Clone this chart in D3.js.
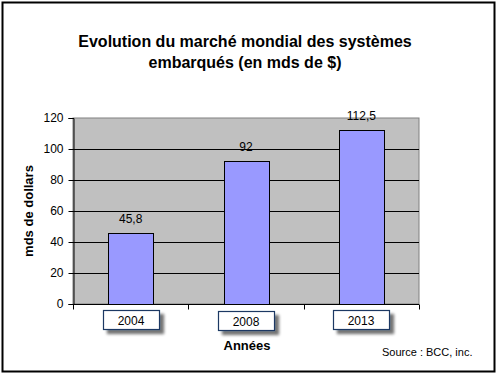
<!DOCTYPE html>
<html>
<head>
<meta charset="utf-8">
<script src="https://cdn.jsdelivr.net/npm/d3@7"></script>
<style>
  body { margin: 0; background: #fff; }
  svg { display: block; font-family: "Liberation Sans", Arial, sans-serif; }
</style>
</head>
<body>
<div class="graph"></div>
<script>
const years = ["2004", "2008", "2013"];
const values = [45.8, 92, 112.5];
const valueLabels = ["45,8", "92", "112,5"];
const yTicks = [0, 20, 40, 60, 80, 100, 120];
const titleLines = ["Evolution du marché mondial des systèmes", "embarqués (en mds de $)"];

const outerWidth = 497, outerHeight = 375;
const plot = { left: 73, right: 419, top: 118, bottom: 304 };

const svg = d3.select(".graph").append("svg")
    .attr("width", outerWidth)
    .attr("height", outerHeight);

const defs = svg.append("defs");
const shadow = defs.append("filter").attr("id", "shadow")
    .attr("x", "-20%").attr("y", "-30%").attr("width", "150%").attr("height", "190%");
shadow.append("feGaussianBlur").attr("in", "SourceAlpha").attr("stdDeviation", 1.6);
shadow.append("feOffset").attr("dx", 4).attr("dy", 4).attr("result", "off");
shadow.append("feComponentTransfer").append("feFuncA").attr("type", "linear").attr("slope", 0.55);
const merge = shadow.append("feMerge");
merge.append("feMergeNode");
merge.append("feMergeNode").attr("in", "SourceGraphic");

// chart frame
svg.append("rect")
    .attr("x", 2.5).attr("y", 2.5)
    .attr("width", 492).attr("height", 369)
    .attr("fill", "#fff")
    .attr("stroke", "#000")
    .attr("stroke-width", 2);

// title
svg.append("text")
    .attr("x", 245).attr("text-anchor", "middle")
    .attr("font-size", 16).attr("font-weight", "bold")
    .selectAll("tspan").data(titleLines).join("tspan")
    .attr("x", 245)
    .attr("y", (d, i) => 47 + i * 21)
    .text(d => d);

const x = d3.scaleBand()
    .domain(years)
    .range([plot.left, plot.right])
    .padding(0);

const y = d3.scaleLinear()
    .domain([0, 120])
    .range([plot.bottom, plot.top]);

// plot area
svg.append("rect")
    .attr("x", plot.left).attr("y", plot.top)
    .attr("width", plot.right - plot.left).attr("height", plot.bottom - plot.top)
    .attr("fill", "#c0c0c0")
    .attr("stroke", "#808080")
    .attr("stroke-width", 1);

// gridlines
svg.append("g")
    .selectAll("line")
    .data(yTicks.filter(d => d > 0 && d < 120))
    .join("line")
    .attr("x1", plot.left).attr("x2", plot.right)
    .attr("y1", d => Math.round(y(d)) + 0.5)
    .attr("y2", d => Math.round(y(d)) + 0.5)
    .attr("stroke", "#000");

// y axis
const yAxis = svg.append("g")
    .attr("transform", `translate(${plot.left + 0.5},0)`)
    .call(d3.axisLeft(y).tickValues(yTicks).tickSize(5).tickPadding(5));
yAxis.select(".domain").attr("stroke", "#000");
yAxis.selectAll(".tick text")
    .attr("font-size", 12)
    .attr("font-family", "Liberation Sans, Arial, sans-serif")
    .attr("fill", "#000");

// bars
const barW = x.bandwidth() * 0.39;
svg.append("g")
    .selectAll("rect")
    .data(values)
    .join("rect")
    .attr("x", (d, i) => Math.round(x(years[i]) + (x.bandwidth() - barW) / 2) + 0.5)
    .attr("y", d => Math.round(y(d)) + 0.5)
    .attr("width", Math.round(barW))
    .attr("height", d => Math.round(y(0)) - Math.round(y(d)))
    .attr("fill", "#9999ff")
    .attr("stroke", "#000");

// value labels
svg.append("g")
    .selectAll("text")
    .data(values)
    .join("text")
    .attr("x", (d, i) => x(years[i]) + x.bandwidth() / 2)
    .attr("y", d => y(d) - 10)
    .attr("text-anchor", "middle")
    .attr("font-size", 12)
    .text((d, i) => valueLabels[i]);

// x axis
const xAxis = svg.append("g")
    .attr("transform", `translate(0,${plot.bottom + 0.5})`);
xAxis.append("line")
    .attr("x1", plot.left).attr("x2", plot.right)
    .attr("stroke", "#000");
xAxis.selectAll(".tk")
    .data([...years.map(d => x(d)), plot.right])
    .join("line")
    .attr("class", "tk")
    .attr("x1", d => Math.round(d) + 0.5).attr("x2", d => Math.round(d) + 0.5)
    .attr("y1", 0).attr("y2", 5)
    .attr("stroke", "#000");

// year boxes
const boxOffsets = [0, 1, 0];
const boxes = svg.append("g")
    .selectAll("g")
    .data(years)
    .join("g")
    .attr("transform", (d, i) => `translate(${Math.round(x(d) + x.bandwidth() / 2 - 28)},${310 + boxOffsets[i]})`);
boxes.append("rect")
    .attr("x", 0.5).attr("y", 0.5)
    .attr("width", 56).attr("height", 19)
    .attr("fill", "#fff")
    .attr("stroke", "#1f3864")
    .attr("stroke-width", 1.2)
    .attr("filter", "url(#shadow)");
boxes.append("text")
    .attr("x", 28).attr("y", 15)
    .attr("text-anchor", "middle")
    .attr("font-size", 12)
    .text(d => d);

// axis titles
svg.append("text")
    .attr("x", 247).attr("y", 350)
    .attr("text-anchor", "middle")
    .attr("font-size", 13).attr("font-weight", "bold")
    .text("Années");

svg.append("text")
    .attr("transform", `translate(33,${(plot.top + plot.bottom) / 2}) rotate(-90)`)
    .attr("text-anchor", "middle")
    .attr("font-size", 13).attr("font-weight", "bold")
    .text("mds de dollars");

svg.append("text")
    .attr("x", 382).attr("y", 356)
    .attr("font-size", 11)
    .text("Source : BCC, inc.");
</script>
</body>
</html>
